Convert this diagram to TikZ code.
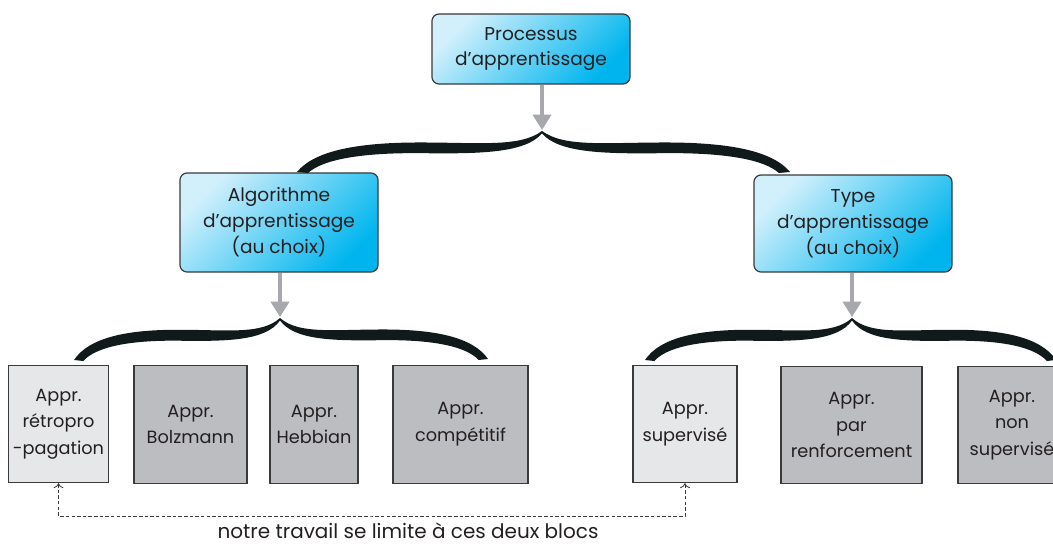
\documentclass[tikz,border=0pt]{standalone}
\usepackage{fontspec}
\setmainfont{Poppins}
\usepackage{tikz}
\usetikzlibrary{arrows.meta,positioning}
\definecolor{mmblue}{HTML}{00B5EE}
\definecolor{mmpale}{HTML}{D2F0FC}
\definecolor{mmgray}{HTML}{BCBDC1}
\definecolor{mmlight}{HTML}{E6E7E9}
\definecolor{mmedge}{HTML}{3A3A3A}
\definecolor{mmarrow}{HTML}{A7A8AC}
\definecolor{mmink}{HTML}{111A1A}
\definecolor{mmtext}{HTML}{231F20}

\begin{document}
\begin{tikzpicture}[
  x=0.025cm, y=-0.025cm,
  topic/.style={draw=mmedge, line width=0.85pt, rounded corners=5pt,
                top color=mmpale, bottom color=mmblue, shading angle=45,
                minimum width=4.95cm, align=center, text=mmtext,
                font=\fontsize{13.2pt}{18.4pt}\selectfont},
  method/.style={draw=mmedge, line width=0.85pt, fill=mmgray,
                 minimum height=2.93cm, align=center, text=mmtext,
                 font=\fontsize{12.6pt}{19pt}\selectfont},
  chosen/.style={method, fill=mmlight},
  feed/.style={-{Triangle[width=13pt,length=11pt]}, line width=2.4pt, draw=mmarrow},
  limit/.style={{To[length=3.5pt,width=7pt]}-{To[length=3.5pt,width=7pt]},
                dashed, dash pattern=on 2.5pt off 1.5pt, line width=0.6pt, draw=mmedge},
  note/.style={text=mmtext, inner sep=1pt, font=\fontsize{14.2pt}{16pt}\selectfont},
  halfbrace/.pic={
    \fill[mmink] (0,0) .. controls (0.073,0.537) and (0.257,0.72) .. (0.502,0.72)
      .. controls (0.747,0.72) and (0.910,0.6) .. (1,1)
      -- (1,0.94) .. controls (0.931,0.46) and (0.747,0.44) .. (0.502,0.46)
      .. controls (0.257,0.47) and (0.104,0.30) .. (0.045,-0.024) -- cycle;
  },
]
  \useasboundingbox (0,0) rectangle (1053,545);

  % Root and the two choices under it.
  \node[topic, minimum height=1.75cm] (proc) at (531,49) {Processus\\d’apprentissage};
  \node[topic, minimum height=2.475cm] (algo) at (279,222.5) {Algorithme\\d’apprentissage\\(au choix)};
  \node[topic, minimum height=2.425cm] (type) at (853,223.5) {Type\\d’apprentissage\\(au choix)};

  % Brace tips where the grey arrows land.
  \coordinate (ptip) at (542,130);
  \coordinate (atip) at (280,317);
  \coordinate (ttip) at (852,317);

  \draw[feed] (proc.south -| ptip) -- (ptip);
  \draw[feed] (algo.south -| atip) -- (atip);
  \draw[feed] (type.south -| ttip) -- (ttip);

  % Curly braces, one half at a time.
  \pic[xscale=245, yscale=-41] at (297,172) {halfbrace};
  \pic[xscale=-248, yscale=-41] at (790,172) {halfbrace};
  \pic[xscale=206, yscale=-42] at (74,360) {halfbrace};
  \pic[xscale=-208, yscale=-41] at (488,359) {halfbrace};
  \pic[xscale=207, yscale=-42] at (645,360) {halfbrace};
  \pic[xscale=-204, yscale=-42] at (1056,360) {halfbrace};

  % Learning algorithms.
  \node[chosen, minimum width=2.375cm] (retro) at (58.5,424) {Appr.\\rétropro\\-pagation};
  \node[method, minimum width=2.825cm] (bolz) at (190.5,424.5) {Appr.\\Bolzmann};
  \node[method, minimum width=2.2cm] (hebb) at (314,424.5) {Appr.\\Hebbian};
  \node[method, minimum width=3.375cm] (comp) at (460.5,424.5) {Appr.\\compétitif};

  % Learning types.
  \node[chosen, minimum width=2.6cm] (sup) at (685,424) {Appr.\\supervisé};
  \node[method, minimum width=3.525cm] (renf) at (851.5,425) {Appr.\\par\\renforcement};
  \node[method, minimum width=2.7cm] (nonsup) at (1012,425) {Appr.\\non\\supervisé};

  % Scope of the work.
  \coordinate (bend) at (372,516);
  \draw[limit] (retro.south) |- (bend) -| (sup.south);
  \node[note] (remark) at (408,531) {notre travail se limite à ces deux blocs};

\end{tikzpicture}
\end{document}
